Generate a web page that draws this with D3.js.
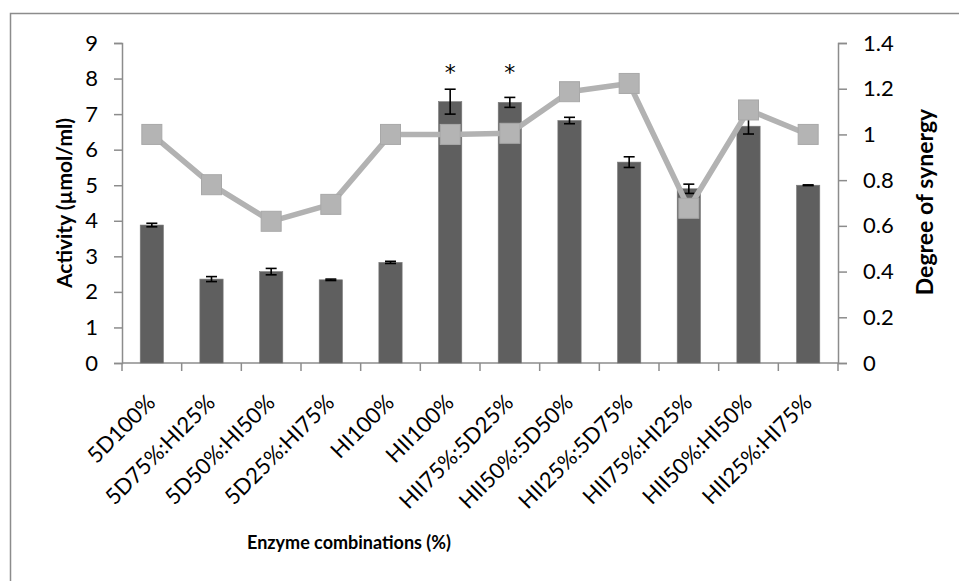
<!DOCTYPE html>
<html>
<head>
    <meta charset="utf-8">
    <title>Enzyme combinations</title>
    <script src="https://d3js.org/d3.v7.min.js"></script>
    <style>
        html, body {
            margin: 0;
            background: #fff;
        }
        text {
            font-family: Lato, "Open Sans", sans-serif;
        }
    </style>
</head>
<body>
    <svg id="svg"></svg>
    <script>
        // values
        const combos = ["5D100%", "5D75%:HI25%", "5D50%:HI50%", "5D25%:HI75%", "HI100%", "HII100%",
            "HII75%:5D25%", "HII50%:5D50%", "HII25%:5D75%", "HII75%:HI25%", "HII50%:HI50%", "HII25%:HI75%"];
        const activity = [3.88, 2.36, 2.57, 2.34, 2.83, 7.35, 7.33, 6.82, 5.65, 4.90, 6.66, 5.00];
        const activityErr = [0.05, 0.07, 0.09, 0.02, 0.03, 0.35, 0.14, 0.09, 0.15, 0.13, 0.22, 0.01];
        const synergy = [1.0, 0.78, 0.62, 0.694, 1.0, 1.0, 1.005, 1.187, 1.223, 0.677, 1.107, 1.0];
        const starred = ["HII100%", "HII75%:5D25%"];
        const leftTicks = [0, 1, 2, 3, 4, 5, 6, 7, 8, 9];
        const rightTicks = [0, 0.2, 0.4, 0.6, 0.8, 1, 1.2, 1.4];

        const width = 959, height = 581;
        const margins = { top: 43, left: 122, right: 121, bottom: 218 };
        const plotW = width - margins.left - margins.right;
        const plotH = height - margins.top - margins.bottom;

        const svg = d3.select("#svg")
            .attr("width", width)
            .attr("height", height);

        // outer frame (only top and left edges are in view)
        svg.append("path")
            .attr("d", `M10.5,${height} V13.5 H${width}`)
            .attr("fill", "none")
            .attr("stroke", "#8c8c8c")
            .attr("stroke-width", 1.5);

        const g = svg.append("g")
            .attr("transform", `translate(${margins.left}, ${margins.top})`);

        const x = d3.scaleBand().domain(combos).range([0, plotW]).paddingInner(0.61).paddingOuter(0.305);
        const y = d3.scaleLinear().domain([0, 9]).range([plotH, 0]);
        const y2 = d3.scaleLinear().domain([0, 1.4]).range([plotH, 0]);

        const data = combos.map((c, i) => ({
            name: c,
            act: activity[i],
            err: activityErr[i],
            syn: synergy[i]
        }));

        // axes
        const leftAxis = g.append("g")
            .call(d3.axisLeft(y).tickValues(leftTicks).tickSize(8).tickPadding(16).tickFormat(d3.format("d")));
        const rightAxis = g.append("g")
            .attr("transform", `translate(${plotW}, 0)`)
            .call(d3.axisRight(y2).tickValues(rightTicks).tickSize(9).tickPadding(16).tickFormat(d => d3.format("")(d)));
        [leftAxis, rightAxis].forEach(a => {
            a.select(".domain").attr("stroke", "#8c8c8c").attr("stroke-width", 1.5);
            a.selectAll(".tick line").attr("stroke", "#8c8c8c").attr("stroke-width", 1.5);
            a.selectAll(".tick text").attr("font-size", 22).attr("fill", "#000");
        });

        // x baseline with ticks at category boundaries
        const bottomAxis = g.append("g").attr("transform", `translate(0, ${plotH})`);
        bottomAxis.append("line")
            .attr("x1", 0).attr("x2", plotW)
            .attr("stroke", "#8c8c8c").attr("stroke-width", 1.5);
        bottomAxis.selectAll(".bnd")
            .data(d3.range(combos.length + 1))
            .enter()
            .append("line")
            .attr("x1", i => i * x.step())
            .attr("x2", i => i * x.step())
            .attr("y1", 0).attr("y2", 8)
            .attr("stroke", "#8c8c8c").attr("stroke-width", 1.5);

        bottomAxis.selectAll(".lbl")
            .data(combos)
            .enter()
            .append("text")
            .attr("transform", d => `translate(${x(d) + x.bandwidth() / 2 + 5}, 41) rotate(-45)`)
            .attr("text-anchor", "end")
            .attr("font-size", 22)
            .text(d => d);

        // bars
        g.selectAll(".bar")
            .data(data)
            .enter()
            .append("rect")
            .attr("x", d => x(d.name))
            .attr("y", d => y(d.act))
            .attr("width", x.bandwidth())
            .attr("height", d => plotH - y(d.act))
            .attr("fill", "#5f5f5f")
            .attr("stroke", "#7a7a7a")
            .attr("stroke-width", 0.6);

        // error bars
        const eb = g.selectAll(".err")
            .data(data)
            .enter()
            .append("g")
            .attr("stroke", "#000")
            .attr("stroke-width", 1.6);
        eb.append("line")
            .attr("x1", d => x(d.name) + x.bandwidth() / 2)
            .attr("x2", d => x(d.name) + x.bandwidth() / 2)
            .attr("y1", d => y(d.act + d.err))
            .attr("y2", d => y(d.act - d.err));
        [1, -1].forEach(s => {
            eb.append("line")
                .attr("x1", d => x(d.name) + x.bandwidth() / 2 - 5.5)
                .attr("x2", d => x(d.name) + x.bandwidth() / 2 + 5.5)
                .attr("y1", d => y(d.act + s * d.err))
                .attr("y2", d => y(d.act + s * d.err));
        });

        // significance marks
        g.selectAll(".star")
            .data(data.filter(d => starred.includes(d.name)))
            .enter()
            .append("text")
            .attr("x", d => x(d.name) + x.bandwidth() / 2)
            .attr("y", 37)
            .attr("text-anchor", "middle")
            .style("font-family", "'DejaVu Sans', sans-serif")
            .attr("font-size", 22)
            .text("*");

        // synergy line
        const line = d3.line()
            .x(d => x(d.name) + x.bandwidth() / 2)
            .y(d => y2(d.syn));
        g.append("path")
            .datum(data)
            .attr("d", line)
            .attr("fill", "none")
            .attr("stroke", "#b2b2b2")
            .attr("stroke-width", 5.5)
            .attr("stroke-linejoin", "round");
        g.selectAll(".mk")
            .data(data)
            .enter()
            .append("rect")
            .attr("x", d => x(d.name) + x.bandwidth() / 2 - 10)
            .attr("y", d => y2(d.syn) - 10)
            .attr("width", 20)
            .attr("height", 20)
            .attr("fill", "#b4b4b4")
            .attr("stroke", "#a8a8a8")
            .attr("stroke-width", 1);

        // axis titles
        svg.append("text")
            .attr("transform", `translate(72, 203) rotate(-90)`)
            .attr("text-anchor", "middle")
            .attr("font-size", 21)
            .attr("font-weight", "bold")
            .text("Activity (µmol/ml)");
        svg.append("text")
            .attr("transform", `translate(933, 202) rotate(-90)`)
            .attr("text-anchor", "middle")
            .attr("font-size", 23)
            .attr("font-weight", "bold")
            .text("Degree of synergy");
        svg.append("text")
            .attr("x", 349)
            .attr("y", 549)
            .attr("text-anchor", "middle")
            .attr("font-size", 18)
            .attr("font-weight", "bold")
            .text("Enzyme combinations (%)");
    </script>
</body>
</html>
